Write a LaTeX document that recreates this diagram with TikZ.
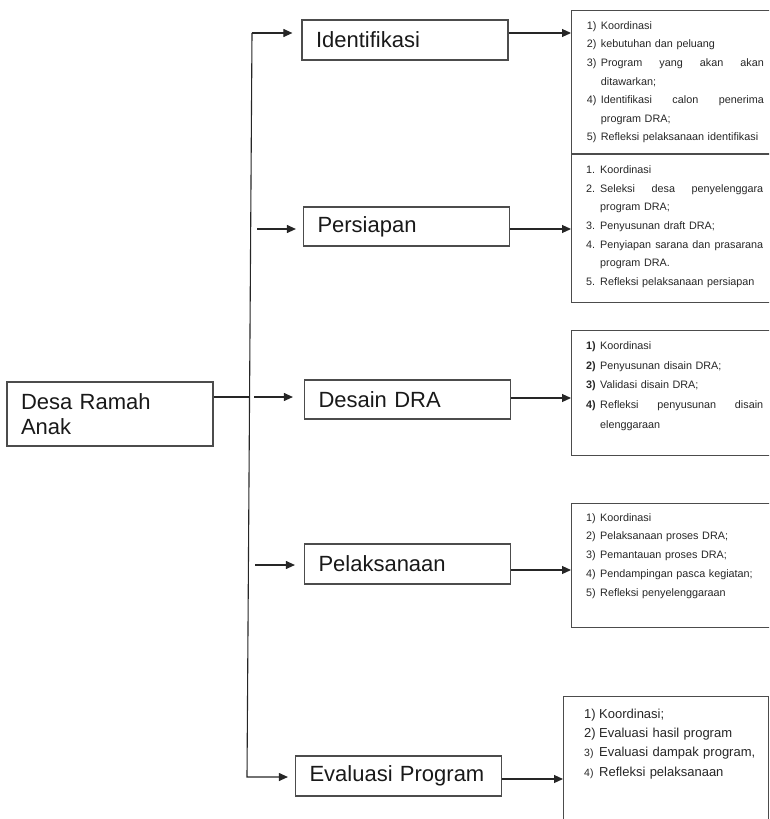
\documentclass[tikz,border=0pt]{standalone}
\usepackage{fontspec}
\setmainfont{Liberation Sans}
\usetikzlibrary{arrows.meta}
\newcommand{\ritem}[2]{\makebox[14pt][l]{#1}#2}
\newcommand{\rjust}[2]{\makebox[14pt][l]{#1}\makebox[163pt][l]{#2}}
\newcommand{\rcont}[1]{\hspace*{14pt}#1}
\newcommand{\vitem}[2]{\makebox[15pt][l]{#1}#2}
\begin{document}
\begin{tikzpicture}[x=1pt,y=-1pt,
  mbox/.style={draw=black!70, line width=1.2pt, minimum width=206pt, text width=178pt,
    inner xsep=14pt, inner ysep=0pt, align=left, text=black!90,
    font=\fontsize{22}{25}\selectfont},
  rbox/.style={draw=black!70, line width=1.2pt, minimum width=215pt, inner sep=0pt},
  rtext/.style={inner sep=0pt, text width=180pt, align=left, text=black!85,
    font=\fontsize{10.8}{18.6}\selectfont},
  conn/.style={draw=black!85, line width=1.1pt},
  arr/.style={conn, -{Triangle[length=9pt,width=8pt]}}
]
\path[use as bounding box] (0,0) rectangle (769,819);
\clip (0,0) rectangle (769,819);

% main boxes
\node[mbox, minimum height=40pt] (ident) at (405,40) {Identifikasi};
\node[mbox, minimum height=39pt] (pers) at (406.5,226.5) {Persiapan};
\node[mbox, minimum height=39pt] (des) at (407.5,399.5) {Desain DRA};
\node[mbox, minimum height=40pt] (pel) at (407.5,564) {Pelaksanaan};
\node[mbox, minimum height=40pt] (eval) at (398.5,776) {Evaluasi Program};
\node[mbox, minimum height=64pt] (desa) at (110,414) {Desa Ramah\\Anak};

% right boxes
\node[rbox, minimum height=143pt, anchor=north west] (r1) at (571,10) {};
\node[rbox, minimum height=148pt, anchor=north west] (r2) at (571,154) {};
\node[rbox, minimum height=125pt, anchor=north west] (r3) at (571,330) {};
\node[rbox, minimum height=124pt, anchor=north west] (r4) at (571,503) {};
\node[rbox, minimum width=205pt, minimum height=150pt, anchor=north west] (r5) at (563,696) {};

\node[rtext, anchor=north west] (t1) at ([xshift=15.7pt]r1.north west) {\rule{0pt}{19pt}\ritem{1)}{Koordinasi}\\
\ritem{2)}{kebutuhan dan peluang}\\
\rjust{3)}{Program\hfill yang\hfill akan\hfill akan}\\
\rcont{ditawarkan;}\\
\rjust{4)}{Identifikasi\hfill calon\hfill penerima}\\
\rcont{program DRA;}\\
\ritem{5)}{Refleksi pelaksanaan identifikasi}};

\node[rtext, anchor=north west] (t2) at ([xshift=15pt]r2.north west) {\rule{0pt}{19.5pt}\ritem{1.}{Koordinasi}\\
\rjust{2.}{Seleksi\hfill desa\hfill penyelenggara}\\
\rcont{program DRA;}\\
\ritem{3.}{Penyusunan draft DRA;}\\
\rjust{4.}{Penyiapan\hfill sarana\hfill dan\hfill prasarana}\\
\rcont{program DRA.}\\
\ritem{5.}{Refleksi pelaksanaan persiapan}};

\node[rtext, anchor=north west, font=\fontsize{10.8}{19.8}\selectfont] (t3) at ([xshift=15pt]r3.north west) {\rule{0pt}{19pt}\ritem{\textbf{1)}}{Koordinasi}\\
\ritem{\textbf{2)}}{Penyusunan disain DRA;}\\
\ritem{\textbf{3)}}{Validasi disain DRA;}\\
\rjust{\textbf{4)}}{Refleksi\hfill penyusunan\hfill disain}\\
\rcont{elenggaraan}};

\node[rtext, anchor=north west, font=\fontsize{10.8}{18.7}\selectfont] (t4) at ([xshift=15pt]r4.north west) {\rule{0pt}{18pt}\ritem{1)}{Koordinasi}\\
\ritem{2)}{Pelaksanaan proses DRA;}\\
\ritem{3)}{Pemantauan proses DRA;}\\
\ritem{4)}{Pendampingan pasca kegiatan;}\\
\ritem{5)}{Refleksi penyelenggaraan}};

\node[rtext, anchor=north west, font=\fontsize{13}{19.3}\selectfont] (t5) at ([xshift=21pt]r5.north west) {\rule{0pt}{22pt}\vitem{1)}{Koordinasi;}\\
\vitem{2)}{Evaluasi hasil program}\\
\vitem{{\fontsize{10.5}{19.3}\selectfont 3)}}{Evaluasi dampak program,}\\
\vitem{{\fontsize{10.5}{19.3}\selectfont 4)}}{Refleksi pelaksanaan}};

% trunk
\coordinate (ttop) at (252,33);
\coordinate (tmid) at (249,397);
\coordinate (tbot) at (247,777);
\coordinate (s2) at (257,229);
\coordinate (s3) at (254,397);
\coordinate (s4) at (255,565);

\draw[conn] (desa.east |- tmid) -- (tmid);
\draw[arr, shorten >=9pt] (ttop) -- (ident.west |- ttop);
\draw[arr, shorten >=7pt] (ttop) -- (tbot) -- (eval.west |- tbot);
\draw[arr, shorten >=7pt] (s2) -- (pers.west |- s2);
\draw[arr, shorten >=11pt] (s3) -- (des.west |- s3);
\draw[arr, shorten >=9pt] (s4) -- (pel.west |- s4);

% right arrows
\draw[arr] (ident.east |- 0,33) -- (r1.west |- 0,33);
\draw[arr] (pers.east |- 0,229) -- (r2.west |- 0,229);
\draw[arr] (des.east |- 0,398) -- (r3.west |- 0,398);
\draw[arr] (pel.east |- 0,570) -- (r4.west |- 0,570);
\draw[arr] (eval.east |- 0,779) -- (r5.west |- 0,779);
\end{tikzpicture}
\end{document}
